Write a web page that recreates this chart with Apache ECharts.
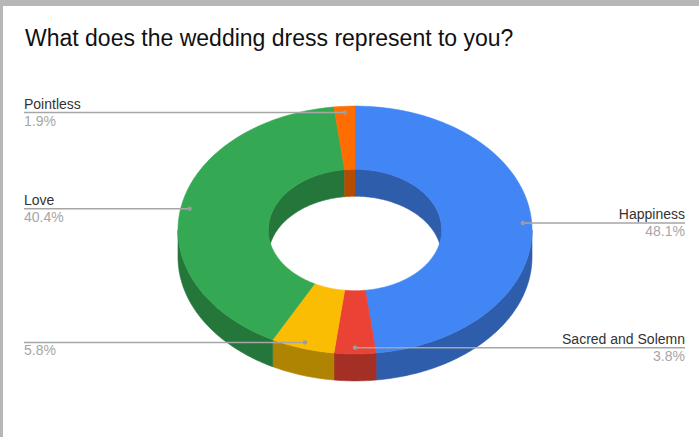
<!DOCTYPE html>
<html>
<head>
<meta charset="utf-8">
<script src="https://cdn.jsdelivr.net/npm/echarts@6/dist/echarts.min.js"></script>
<style>
  html, body { margin: 0; padding: 0; width: 699px; height: 437px; overflow: hidden; background: #b7b7b7; }
  #chart { position: absolute; left: 3px; top: 6px; width: 696px; height: 431px; background: #ffffff; }
</style>
</head>
<body>
<div id="chart"></div>
<script>
// Survey answers, clockwise from 12 o'clock
const chartTitle = 'What does the wedding dress represent to you?';
const categories = ['Happiness', 'Sacred and Solemn', '', 'Love', 'Pointless'];
const shares = [48.1, 3.8, 5.8, 40.4, 1.9];
const sliceColors = ['#4285f4', '#ea4335', '#fbbc04', '#34a853', '#ff6d01'];

// Tilted donut geometry, in chart pixels
const CX = 352, CY = 224, RX = 177, TILT = 0.7, HOLE = 0.49, DEPTH = 27;
const LABEL_LEFT = 21, LABEL_RIGHT = 682, DOT_AT = 0.95;
const FONT = '"Liberation Sans", Arial, Helvetica, sans-serif';

const total = shares.reduce((a, b) => a + b, 0);
const startAngles = [];
shares.reduce((acc, v) => { startAngles.push(acc / total * 2 * Math.PI); return acc + v; }, 0);

function pt(theta, r, dy) {
  return [CX + r * Math.sin(theta), CY - r * TILT * Math.cos(theta) + (dy || 0)];
}
function arc(a0, a1, r, dy) {
  const n = Math.max(2, Math.ceil(Math.abs(a1 - a0) / (Math.PI / 180)));
  const pts = [];
  for (let i = 0; i <= n; i++) pts.push(pt(a0 + (a1 - a0) * i / n, r, dy));
  return pts;
}
function band(a0, a1, r) {
  return arc(a0, a1, r, 0).concat(arc(a1, a0, r, DEPTH));
}
function shade(hex, f) {
  const n = parseInt(hex.slice(1), 16);
  const c = [(n >> 16) & 255, (n >> 8) & 255, n & 255].map(x => Math.round(x * f));
  return 'rgb(' + c.join(',') + ')';
}

function renderSlice(params, api) {
  const i = params.dataIndex;
  const a0 = startAngles[i];
  const a1 = a0 + api.value(0) / total * 2 * Math.PI;
  const col = sliceColors[i];
  const dark = shade(col, 0.7);
  const kids = [];

  // front part of the outer rim
  const o0 = Math.max(a0, Math.PI / 2), o1 = Math.min(a1, 1.5 * Math.PI);
  if (o1 > o0) {
    kids.push({ type: 'polygon', z2: 1, shape: { points: band(o0, o1, RX) },
      style: { fill: dark, stroke: dark, lineWidth: 0.6 } });
  }
  // far wall of the hole
  [[0, Math.PI / 2], [1.5 * Math.PI, 2 * Math.PI]].forEach(([lo, hi]) => {
    const b0 = Math.max(a0, lo), b1 = Math.min(a1, hi);
    if (b1 > b0) {
      kids.push({ type: 'polygon', z2: 1, shape: { points: band(b0, b1, RX * HOLE) },
        style: { fill: dark, stroke: dark, lineWidth: 0.6 } });
    }
  });
  // top face
  kids.push({ type: 'polygon', z2: 2,
    shape: { points: arc(a0, a1, RX, 0).concat(arc(a1, a0, RX * HOLE, 0)) },
    style: { fill: col, stroke: col, lineWidth: 0.6 } });

  // leader line, dot and label
  const mid = (a0 + a1) / 2;
  const d = pt(mid, RX * DOT_AT, 0);
  const onLeft = Math.sin(mid) < 0;
  const ex = onLeft ? LABEL_LEFT : LABEL_RIGHT;
  kids.push({ type: 'line', z2: 3, shape: { x1: ex, y1: d[1], x2: d[0], y2: d[1] },
    style: { stroke: '#a6a6a6', lineWidth: 1.5 } });
  kids.push({ type: 'circle', z2: 4, shape: { cx: d[0], cy: d[1], r: 2.2 },
    style: { fill: '#9c9c9c' } });
  const pct = (api.value(0) / total * 100).toFixed(1) + '%';
  if (categories[i]) {
    kids.push({ type: 'text', z2: 5, style: {
      text: categories[i], x: ex, y: d[1] - 9, align: onLeft ? 'left' : 'right',
      verticalAlign: 'middle', fill: '#333333', fontSize: 14, fontFamily: FONT } });
  }
  kids.push({ type: 'text', z2: 5, style: {
    text: pct, x: ex, y: d[1] + 8, align: onLeft ? 'left' : 'right',
    verticalAlign: 'middle', fill: '#a6a6a6', fontSize: 14, fontFamily: FONT } });

  return { type: 'group', children: kids };
}

const chart = echarts.init(document.getElementById('chart'), null, { renderer: 'svg' });
chart.setOption({
  animation: false,
  backgroundColor: '#ffffff',
  title: {
    text: chartTitle, left: 22, top: 20, padding: 0,
    textStyle: { fontSize: 23, fontWeight: 'normal', color: '#111111', fontFamily: FONT }
  },
  series: [{
    type: 'custom',
    coordinateSystem: 'none',
    renderItem: renderSlice,
    data: shares.map((v, i) => ({ name: categories[i], value: v }))
  }]
});
</script>
</body>
</html>
